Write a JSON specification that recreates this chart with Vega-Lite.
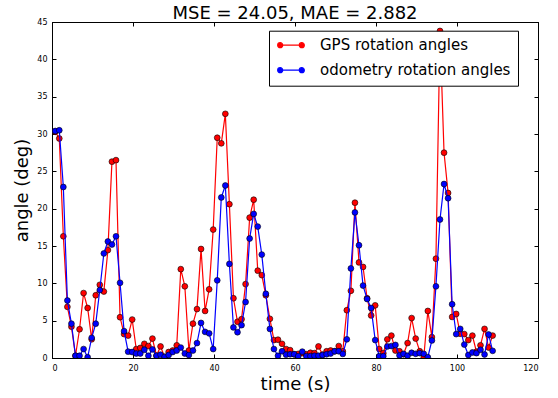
{
  "$schema": "https://vega.github.io/schema/vega-lite/v6.json",
  "width": 486,
  "height": 336,
  "autosize": {"type": "none"},
  "padding": {"left": 52, "top": 22, "right": 20, "bottom": 40},
  "background": "white",
  "title": {"text": "MSE = 24.05, MAE = 2.882", "fontSize": 18, "fontWeight": "normal", "font": "DejaVu Sans", "color": "black", "offset": 0, "baseline": "alphabetic", "dy": 19},
  "config": {
    "font": "DejaVu Sans",
    "view": {"stroke": "black", "strokeWidth": 1},
    "axis": {"grid": false, "domainColor": "black", "tickColor": "black", "labelColor": "black", "labelFontSize": 8, "titleFontSize": 18, "titleFontWeight": "normal", "titleColor": "black", "tickSize": -4, "domainWidth": 1}
  },
  "data": {"values": [
    {"t":0.8,"gps":30.3,"odo":30.4},{"t":1.8,"gps":29.4,"odo":30.5},{"t":2.8,"gps":16.3,"odo":22.9},{"t":3.8,"gps":6.85,"odo":7.7},{"t":4.8,"gps":4.2,"odo":4.6},
    {"t":5.8,"gps":0.3,"odo":0.3},{"t":6.8,"gps":3.85,"odo":0.3},{"t":7.8,"gps":8.7,"odo":1.2},{"t":8.8,"gps":6.7,"odo":0.1},{"t":9.8,"gps":2.5,"odo":2.7},
    {"t":10.8,"gps":8.4,"odo":4.6},{"t":11.8,"gps":9.8,"odo":9.1},{"t":12.8,"gps":8.9,"odo":14.0},{"t":13.8,"gps":14.45,"odo":15.6},{"t":14.8,"gps":26.3,"odo":15.2},
    {"t":15.8,"gps":26.5,"odo":16.3},{"t":16.8,"gps":5.46,"odo":10.07},{"t":17.8,"gps":3.2,"odo":3.6},{"t":18.8,"gps":3.0,"odo":0.85},{"t":19.8,"gps":5.15,"odo":0.8},
    {"t":20.8,"gps":1.2,"odo":0.6},{"t":21.8,"gps":1.35,"odo":0.6},{"t":22.8,"gps":1.9,"odo":1.1},{"t":23.8,"gps":1.6,"odo":0.3},{"t":24.8,"gps":2.6,"odo":1.15},
    {"t":25.8,"gps":0.3,"odo":0.3},{"t":26.8,"gps":1.55,"odo":0.45},{"t":27.8,"gps":0.15,"odo":0.15},{"t":28.8,"gps":0.8,"odo":0.4},{"t":29.8,"gps":1.0,"odo":0.8},
    {"t":30.8,"gps":1.7,"odo":1.0},{"t":31.8,"gps":11.9,"odo":1.4},{"t":32.8,"gps":9.6,"odo":0.6},{"t":33.8,"gps":1.0,"odo":0.4},{"t":34.8,"gps":4.6,"odo":1.0},
    {"t":35.8,"gps":6.55,"odo":2.0},{"t":36.8,"gps":14.6,"odo":4.7},{"t":37.8,"gps":6.3,"odo":3.5},{"t":38.8,"gps":9.2,"odo":3.3},{"t":39.8,"gps":17.2,"odo":1.2},
    {"t":40.8,"gps":29.5,"odo":10.4},{"t":41.8,"gps":28.75,"odo":21.5},{"t":42.8,"gps":32.7,"odo":23.1},{"t":43.8,"gps":20.6,"odo":12.6},{"t":44.8,"gps":8.0,"odo":4.1},
    {"t":45.8,"gps":4.85,"odo":3.45},{"t":46.8,"gps":5.2,"odo":4.4},{"t":47.8,"gps":9.9,"odo":7.5},{"t":48.8,"gps":18.8,"odo":16.0},{"t":49.8,"gps":21.2,"odo":19.3},
    {"t":50.8,"gps":11.7,"odo":17.6},{"t":51.8,"gps":11.1,"odo":13.85},{"t":52.8,"gps":8.4,"odo":8.6},{"t":53.8,"gps":5.25,"odo":3.9},{"t":54.8,"gps":2.4,"odo":1.2},
    {"t":55.8,"gps":2.45,"odo":0.3},{"t":56.8,"gps":1.9,"odo":0.9},{"t":57.8,"gps":1.2,"odo":0.45},{"t":58.8,"gps":1.05,"odo":0.5},{"t":59.8,"gps":0.5,"odo":0.5},
    {"t":60.8,"gps":0.55,"odo":0.25},{"t":61.8,"gps":0.65,"odo":0.85},{"t":62.8,"gps":0.5,"odo":0.25},{"t":63.8,"gps":0.7,"odo":0.25},{"t":64.8,"gps":0.65,"odo":0.3},
    {"t":65.8,"gps":1.55,"odo":0.3},{"t":66.8,"gps":0.45,"odo":0.4},{"t":67.8,"gps":0.9,"odo":0.5},{"t":68.8,"gps":1.0,"odo":0.6},{"t":69.8,"gps":0.9,"odo":0.9},
    {"t":70.8,"gps":1.6,"odo":0.9},{"t":71.8,"gps":0.9,"odo":0.55},{"t":72.8,"gps":6.4,"odo":2.5},{"t":73.8,"gps":9.0,"odo":12.0},{"t":74.8,"gps":20.8,"odo":19.5},
    {"t":75.8,"gps":12.8,"odo":15.1},{"t":76.8,"gps":12.2,"odo":9.7},{"t":77.8,"gps":8.0,"odo":7.9},{"t":78.8,"gps":5.7,"odo":6.7},{"t":79.8,"gps":7.05,"odo":2.4},
    {"t":80.8,"gps":1.2,"odo":0.25},{"t":81.8,"gps":0.65,"odo":0.25},{"t":82.8,"gps":2.5,"odo":1.55},{"t":83.8,"gps":3.0,"odo":1.6},{"t":84.8,"gps":1.0,"odo":1.75},
    {"t":85.8,"gps":0.9,"odo":0.35},{"t":86.8,"gps":0.5,"odo":0.55},{"t":87.8,"gps":2.0,"odo":0.3},{"t":88.8,"gps":5.35,"odo":0.7},{"t":89.8,"gps":2.6,"odo":0.56},
    {"t":90.8,"gps":0.9,"odo":0.65},{"t":91.8,"gps":0.1,"odo":0.56},{"t":92.8,"gps":6.3,"odo":0.1},{"t":93.8,"gps":2.8,"odo":2.35},{"t":94.8,"gps":13.3,"odo":9.6},
    {"t":95.8,"gps":43.8,"odo":18.55},{"t":96.8,"gps":27.5,"odo":23.3},{"t":97.8,"gps":22.1,"odo":21.4},{"t":98.8,"gps":5.5,"odo":7.2},{"t":99.8,"gps":5.9,"odo":3.2},
    {"t":100.8,"gps":3.25,"odo":3.9},{"t":101.8,"gps":3.2,"odo":1.8},{"t":102.8,"gps":2.4,"odo":0.4},{"t":103.8,"gps":3.0,"odo":0.74},{"t":104.8,"gps":0.85,"odo":0.65},
    {"t":105.8,"gps":1.7,"odo":1.1},{"t":106.8,"gps":3.9,"odo":0.47},{"t":107.8,"gps":1.4,"odo":3.15},{"t":108.8,"gps":3.0,"odo":0.96}
  ]},
  "transform": [{"fold": ["gps", "odo"], "as": ["series", "angle"]}],
  "layer": [
    {
      "transform": [{"filter": "datum.series == 'gps'"}],
      "mark": {"type": "line", "strokeWidth": 1.2, "clip": true, "point": {"filled": true, "size": 34, "stroke": "black", "strokeWidth": 0.6}},
      "encoding": {
        "x": {"field": "t", "type": "quantitative", "scale": {"domain": [0, 120], "nice": false, "zero": false},
              "axis": {"orient": "bottom", "title": "time (s)", "values": [0, 20, 40, 60, 80, 100, 120], "labelPadding": 10, "titlePadding": 3}},
        "y": {"field": "angle", "type": "quantitative", "scale": {"domain": [0, 45], "nice": false},
              "axis": {"orient": "left", "title": "angle (deg)", "values": [0, 5, 10, 15, 20, 25, 30, 35, 40, 45], "labelPadding": 9, "titlePadding": 5}},
        "color": {"field": "series", "type": "nominal",
                  "scale": {"domain": ["gps", "odo"], "range": ["#ff0000", "#0000ff"]},
                  "legend": {"title": null, "orient": "none", "legendX": 217, "legendY": 8.7, "fillColor": "white", "strokeColor": "black", "padding": 7,
                             "labelExpr": "datum.label == 'gps' ? 'GPS rotation angles' : 'odometry rotation angles'",
                             "labelFontSize": 15, "labelColor": "black", "labelOffset": 29, "labelLimit": 400, "rowPadding": 9,
                             "symbolType": "M-0.55,0L3.05,0M-0.97,0A0.42,0.42,0,1,0,-0.13,0A0.42,0.42,0,1,0,-0.97,0ZM2.63,0A0.42,0.42,0,1,0,3.47,0A0.42,0.42,0,1,0,2.63,0Z",
                             "symbolSize": 144, "symbolStrokeWidth": 1.2}}
      }
    },
    {
      "transform": [{"filter": "datum.series == 'odo'"}],
      "mark": {"type": "line", "strokeWidth": 1.2, "clip": true, "point": {"filled": true, "size": 34, "stroke": "black", "strokeWidth": 0.6}},
      "encoding": {
        "x": {"field": "t", "type": "quantitative", "axis": {"orient": "top", "title": null, "labels": false, "values": [0, 20, 40, 60, 80, 100, 120]}},
        "y": {"field": "angle", "type": "quantitative", "axis": {"orient": "right", "title": null, "labels": false, "values": [0, 5, 10, 15, 20, 25, 30, 35, 40, 45]}},
        "color": {"field": "series", "type": "nominal"}
      }
    }
  ],
  "resolve": {"axis": {"x": "independent", "y": "independent"}}
}
